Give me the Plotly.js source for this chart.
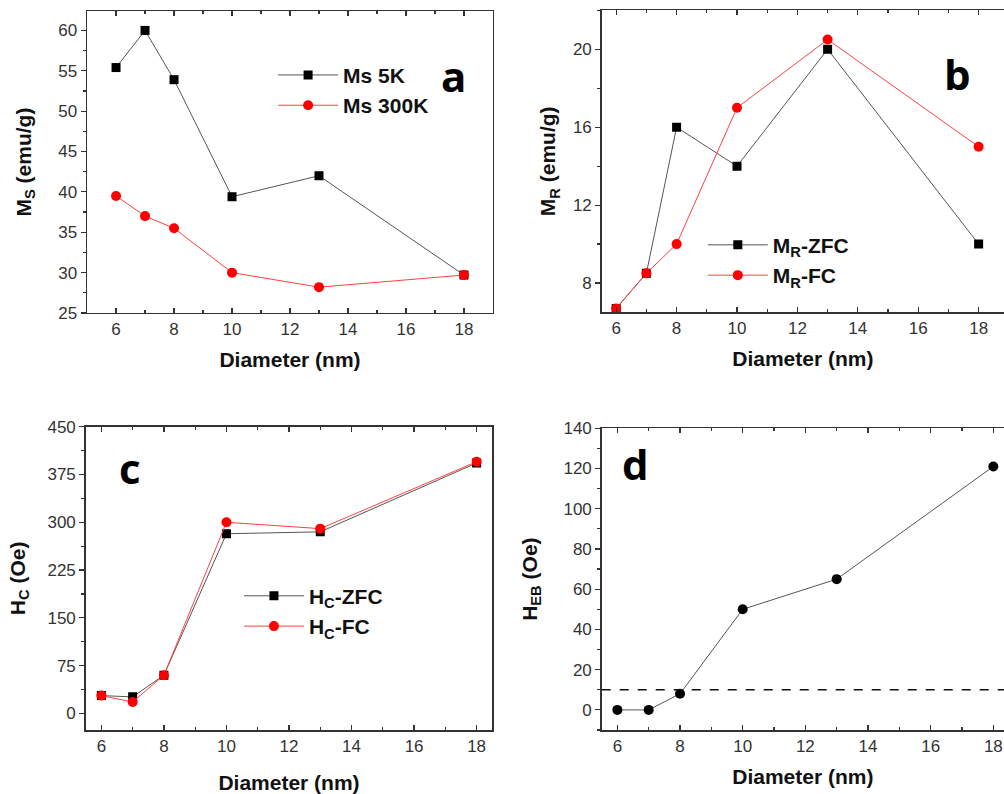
<!DOCTYPE html>
<html>
<head>
<meta charset="utf-8">
<script src="https://cdn.plot.ly/plotly-3.0.1.min.js"></script>
<style>html,body{margin:0;padding:0;background:#fff;}#chart{width:1004px;height:794px;}</style>
</head>
<body>
<div id="chart"></div>
<script>
const diameter = [6, 7, 8, 10, 13, 18];
const ms5K = [55.4, 60, 53.9, 39.4, 42, 29.7];
const ms300K = [39.5, 37, 35.5, 30, 28.2, 29.7];
const mrZFC = [6.7, 8.5, 16, 14, 20, 10];
const mrFC = [6.7, 8.5, 10, 17, 20.5, 15];
const hcZFC = [28, 26, 60, 282, 285, 393];
const hcFC = [28, 18, 60, 300, 290, 395];
const hEB = [0, 0, 8, 50, 65, 121];
const hebThreshold = 10;
const seriesNames = ['Ms 5K', 'Ms 300K', 'M<sub>R</sub>-ZFC', 'M<sub>R</sub>-FC', 'H<sub>C</sub>-ZFC', 'H<sub>C</sub>-FC'];
const panelLetters = ['a', 'b', 'c', 'd'];
const xTitle = 'Diameter (nm)';
const yTitles = ['M<sub>S</sub> (emu/g)', 'M<sub>R</sub> (emu/g)', 'H<sub>C</sub> (Oe)', 'H<sub>EB</sub> (Oe)'];

const BLACK_LINE = '#555';
const RED_LINE = '#ff4040';
const tickFont = {family: 'Liberation Sans, Arial, sans-serif', size: 17, color: '#333'};
const titleFont = {family: 'Liberation Sans, Arial, sans-serif', size: 21, color: '#111', weight: 'bold'};

function blackTrace(x, y, name, xa, ya, leg) {
  return {x: x, y: y, name: name, xaxis: xa, yaxis: ya, legend: leg,
    type: 'scatter', mode: 'lines+markers',
    line: {color: BLACK_LINE, width: 1},
    marker: {symbol: 'square', size: 9, color: '#000'}, showlegend: !!leg};
}
function redTrace(x, y, name, xa, ya, leg) {
  return {x: x, y: y, name: name, xaxis: xa, yaxis: ya, legend: leg,
    type: 'scatter', mode: 'lines+markers',
    line: {color: RED_LINE, width: 1},
    marker: {symbol: 'circle', size: 10, color: '#ff0000'}, showlegend: !!leg};
}

const traces = [
  blackTrace(diameter, ms5K, seriesNames[0], 'x', 'y', 'legend'),
  redTrace(diameter, ms300K, seriesNames[1], 'x', 'y', 'legend'),
  blackTrace(diameter, mrZFC, seriesNames[2], 'x2', 'y2', 'legend2'),
  redTrace(diameter, mrFC, seriesNames[3], 'x2', 'y2', 'legend2'),
  blackTrace(diameter, hcZFC, seriesNames[4], 'x3', 'y3', 'legend3'),
  redTrace(diameter, hcFC, seriesNames[5], 'x3', 'y3', 'legend3'),
  {x: diameter, y: hEB, xaxis: 'x4', yaxis: 'y4', type: 'scatter', mode: 'lines+markers',
    line: {color: BLACK_LINE, width: 1}, marker: {symbol: 'circle', size: 10, color: '#000'}, showlegend: false}
];

function xAxis(domain, range, anchor, standoff) {
  return {domain: domain, range: range, anchor: anchor, tick0: 0, dtick: 2,
    ticks: 'inside', ticklen: 5, tickwidth: 1.2, tickcolor: '#333',
    minor: {dtick: 1, ticks: 'inside', ticklen: 3, tickcolor: '#333'},
    showline: true, linecolor: '#333', linewidth: 1.5, mirror: 'ticks',
    showgrid: false, zeroline: false, tickfont: tickFont,
    title: {text: xTitle, font: titleFont, standoff: standoff}};
}
function yAxis(domain, range, anchor, dtick, minor, title, standoff) {
  return {domain: domain, range: range, anchor: anchor, tick0: 0, dtick: dtick,
    ticks: 'outside', ticklen: 5, tickwidth: 1.2, tickcolor: '#333',
    minor: {dtick: minor, ticks: 'outside', ticklen: 3, tickcolor: '#333'},
    showline: true, linecolor: '#333', linewidth: 1.5, mirror: true,
    showgrid: false, zeroline: false, tickfont: tickFont,
    title: {text: title, font: titleFont, standoff: standoff}};
}
// right-hand tick marks pointing inward (tick marks only, no labels)
function yRight(overlay, anchor, range, dtick, minor) {
  return {overlaying: overlay, anchor: anchor, side: 'right', range: range, tick0: 0, dtick: dtick,
    ticks: 'inside', ticklen: 5, tickwidth: 1.2, tickcolor: '#333',
    minor: {dtick: minor, ticks: 'inside', ticklen: 3, tickcolor: '#333'},
    showline: false, showgrid: false, zeroline: false, showticklabels: false};
}

const rA = [25, 62.4], rB = [6.5, 22], rC = [-26, 450], rD = [-10, 140];

const legendBase = {bgcolor: 'rgba(0,0,0,0)', borderwidth: 0, itemwidth: 60,
  font: {family: 'Liberation Sans, Arial, sans-serif', size: 21, color: '#111', weight: 'bold'},
  xanchor: 'left', yanchor: 'top'};

const letterFont = {family: 'Open Sans, Noto Sans, sans-serif', size: 42, color: '#000', weight: 'bold'};

const layout = {
  width: 1004, height: 794,
  margin: {l: 0, r: 0, t: 0, b: 0},
  paper_bgcolor: '#fff', plot_bgcolor: '#fff',
  showlegend: true,
  xaxis: xAxis([0.0867, 0.491], [5, 19], 'y', 14),
  yaxis: yAxis([0.6058, 0.9861], rA, 'x', 5, 2.5, yTitles[0], 21),
  xaxis2: xAxis([0.5993, 1.0], [5.52, 18.84], 'y2', 14),
  yaxis2: yAxis([0.6067, 0.987], rB, 'x2', 4, 2, yTitles[1], 11),
  xaxis3: xAxis([0.0854, 0.4903], [5.5, 18.5], 'y3', 42),
  yaxis3: yAxis([0.0806, 0.4626], rC, 'x3', 75, 37.5, yTitles[2], 16),
  xaxis4: xAxis([0.5993, 1.0], [5.5, 18.34], 'y4', 14),
  yaxis4: yAxis([0.0806, 0.4606], rD, 'x4', 20, 10, yTitles[3], 20),
  yaxis5: yRight('y', 'x', rA, 5, 2.5),
  yaxis6: yRight('y2', 'x2', rB, 4, 2),
  yaxis7: yRight('y3', 'x3', rC, 75, 37.5),
  yaxis8: yRight('y4', 'x4', rD, 20, 10),
  legend: Object.assign({}, legendBase, {x: 0.272, y: 0.931}),
  legend2: Object.assign({}, legendBase, {x: 0.700, y: 0.717}),
  legend3: Object.assign({}, legendBase, {x: 0.238, y: 0.275}),
  shapes: [{type: 'line', xref: 'x4 domain', yref: 'y4', x0: 0, x1: 1, y0: hebThreshold, y1: hebThreshold,
    line: {color: '#111', width: 1.5, dash: 'dash'}}],
  annotations: [
    {text: panelLetters[0], xref: 'paper', yref: 'paper', x: 453 / 1004, y: 1 - 45 / 794, showarrow: false, font: letterFont},
    {text: panelLetters[1], xref: 'paper', yref: 'paper', x: 973 / 1004, y: 1 - 43 / 794, showarrow: false, font: letterFont},
    {text: panelLetters[2], xref: 'paper', yref: 'paper', x: 117 / 1004, y: 1 - 467 / 794, showarrow: false, font: letterFont},
    {text: panelLetters[3], xref: 'paper', yref: 'paper', x: 635 / 1004, y: 1 - 463 / 794, showarrow: false, font: letterFont}
  ]
};

Plotly.newPlot('chart', traces, layout, {staticPlot: true, displayModeBar: false});
</script>
</body>
</html>
